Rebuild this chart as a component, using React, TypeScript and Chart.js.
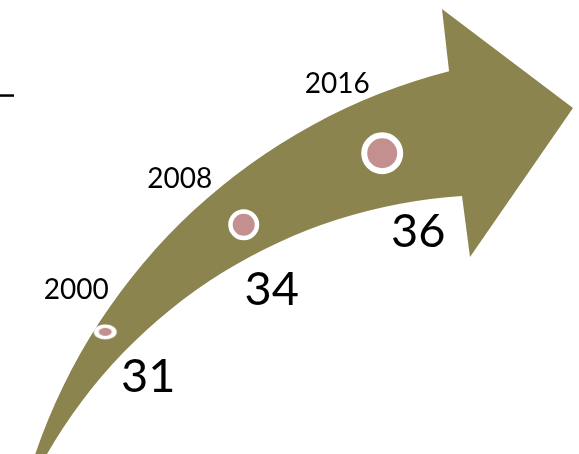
import React, { useEffect, useRef } from "react";
import { Chart, registerables } from "chart.js";

Chart.register(...registerables);

// ---- data ----
const years = [2000, 2008, 2016];
const yearLabels = ["2000", "2008", "2016"];
const values = [31, 34, 36];

// ---- styles ----
const OLIVE = "#8c844f";
const PINK = "#c4908f";
const FONT = "Lato, 'Open Sans', sans-serif";
const W = 579;
const H = 454;

// decorative arrow outline (design box 579x454): two circular arcs + head
const UPPER_ARC = { cx: 596.6, cy: 645.8, r: 593.2, from: [35, 454], to: [449, 71] };
const ARROW_HEAD: number[][] = [[442, 9], [573, 108], [470, 257], [462, 196]];
const LOWER_ARC = { cx: 494.8, cy: 711.6, r: 516.6, from: [462, 196], to: [47, 454] };

const yearOffsets = [[-29, -43], [-64, -47], [-45, -70]];
const valueOffsets = [[43, 43], [28, 63], [36, 77]];

function ang(a: { cx: number; cy: number }, p: number[]) {
  return Math.atan2(p[1] - a.cy, p[0] - a.cx);
}

const arrowPlugin = {
  id: "arrowBg",
  beforeDatasetsDraw(chart: any) {
    const ctx = chart.ctx as CanvasRenderingContext2D;
    const sx = chart.width / W;
    const sy = chart.height / H;
    ctx.save();
    ctx.scale(sx, sy);
    // small black dash at top-left
    ctx.fillStyle = "#000";
    ctx.fillRect(0, 94.3, 14, 2.5);
    ctx.fillStyle = OLIVE;
    ctx.beginPath();
    ctx.moveTo(UPPER_ARC.from[0], UPPER_ARC.from[1] + 2);
    ctx.arc(UPPER_ARC.cx, UPPER_ARC.cy, UPPER_ARC.r, ang(UPPER_ARC, UPPER_ARC.from), ang(UPPER_ARC, UPPER_ARC.to), false);
    for (const p of ARROW_HEAD) ctx.lineTo(p[0], p[1]);
    ctx.arc(LOWER_ARC.cx, LOWER_ARC.cy, LOWER_ARC.r, ang(LOWER_ARC, LOWER_ARC.from), ang(LOWER_ARC, LOWER_ARC.to), true);
    ctx.lineTo(LOWER_ARC.to[0], LOWER_ARC.to[1] + 2);
    ctx.closePath();
    ctx.fill();
    ctx.restore();
  },
};

const labelPlugin = {
  id: "pointLabels",
  afterDatasetsDraw(chart: any) {
    const ctx = chart.ctx as CanvasRenderingContext2D;
    const meta = chart.getDatasetMeta(0);
    ctx.save();
    ctx.fillStyle = "#000";
    ctx.textAlign = "center";
    ctx.textBaseline = "alphabetic";
    meta.data.forEach((el: any, i: number) => {
      const ys = 28;
      ctx.font = `${ys}px ${FONT}`;
      ctx.fillText(yearLabels[i], el.x + yearOffsets[i][0], el.y + yearOffsets[i][1] + ys * 0.36);
      const vs = 47;
      ctx.font = `${vs}px ${FONT}`;
      ctx.fillText(String(values[i]), el.x + valueOffsets[i][0], el.y + valueOffsets[i][1] + vs * 0.36);
    });
    ctx.restore();
  },
};

function makeEllipse(): HTMLCanvasElement {
  const c = document.createElement("canvas");
  c.width = 26;
  c.height = 18;
  const g = c.getContext("2d")!;
  g.fillStyle = "#ffffff";
  g.beginPath();
  g.ellipse(13, 9, 11.5, 7.5, 0, 0, Math.PI * 2);
  g.fill();
  g.fillStyle = PINK;
  g.beginPath();
  g.ellipse(13, 9, 6.5, 4, 0, 0, Math.PI * 2);
  g.fill();
  return c;
}

export default function App() {
  const ref = useRef<HTMLCanvasElement>(null);
  useEffect(() => {
    if (!ref.current) return;
    const ellipse = makeEllipse();
    const chart = new Chart(ref.current, {
      type: "scatter",
      data: {
        datasets: [
          {
            data: years.map((x, i) => ({ x, y: values[i] })),
            pointBackgroundColor: PINK,
            pointBorderColor: "#ffffff",
            pointRadius: [9, 13.25, 18],
            pointBorderWidth: [4, 4.5, 6],
            pointStyle: [ellipse, "circle", "circle"] as any,
            clip: false as any,
          },
        ],
      },
      options: {
        animation: false,
        responsive: false,
        layout: { padding: 0, autoPadding: false } as any,
        events: [],
        scales: {
          x: { type: "linear", display: false, min: 1993.92, max: 2027.37 },
          y: { type: "linear", display: false, min: 27.58, max: 40.29 },
        },
        plugins: { legend: { display: false }, tooltip: { enabled: false } },
      },
      plugins: [arrowPlugin, labelPlugin],
    });
    return () => chart.destroy();
  }, []);
  return (
    <div style={{ position: "fixed", left: 0, top: 0, width: W, height: H, background: "#fff" }}>
      <canvas ref={ref} width={W} height={H} style={{ display: "block" }} />
    </div>
  );
}
